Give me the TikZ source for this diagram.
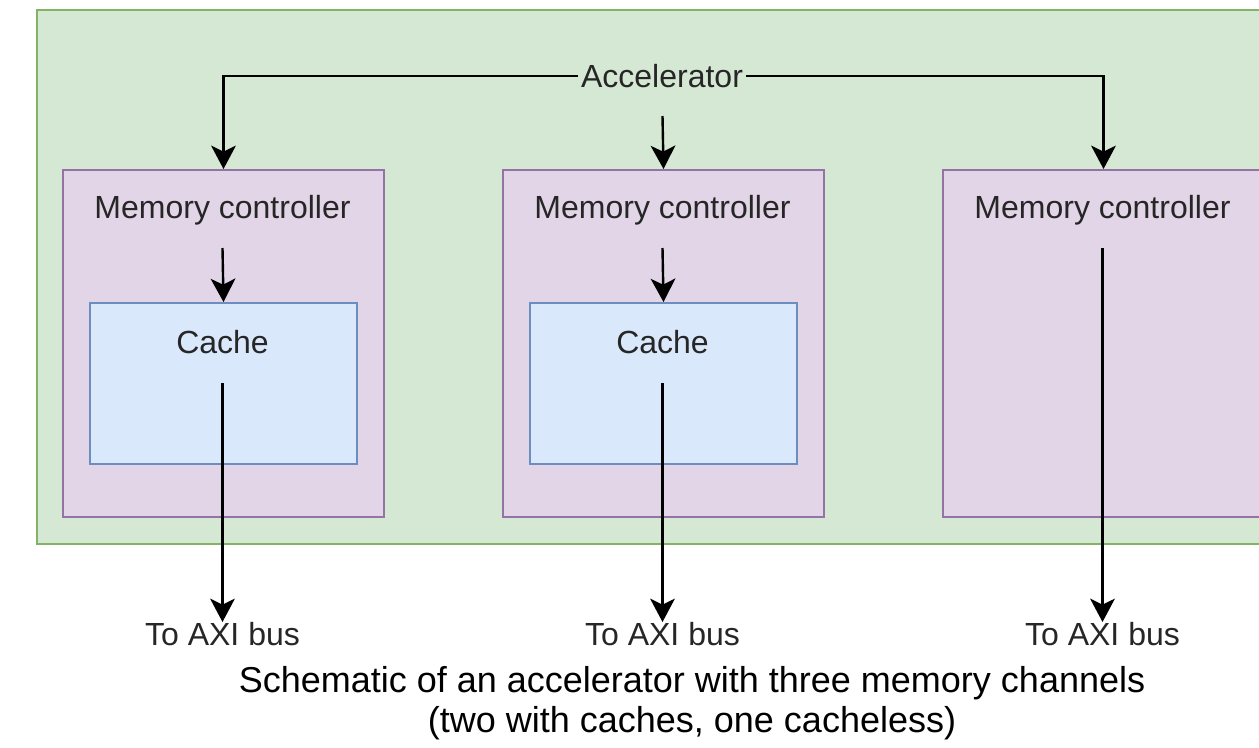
\documentclass[tikz,border=0pt]{standalone}
\usepackage{fontspec}
\setmainfont{Liberation Sans}
\usetikzlibrary{arrows.meta}
\definecolor{accfill}{HTML}{D5E8D4}
\definecolor{accline}{HTML}{82B366}
\definecolor{mcfill}{HTML}{E1D5E7}
\definecolor{mcline}{HTML}{9673A6}
\definecolor{cachefill}{HTML}{DAE8FC}
\definecolor{cacheline}{HTML}{6C8EBF}
\tikzset{
  accbox/.style={draw=accline, fill=accfill, line width=1.5pt, inner sep=0pt, anchor=north west,
    minimum width=929.25pt, minimum height=400.5pt},
  mcbox/.style={draw=mcline, fill=mcfill, line width=1.5pt, inner sep=0pt, anchor=north west,
    minimum width=240.75pt, minimum height=260.25pt},
  cachebox/.style={draw=cacheline, fill=cachefill, line width=1.5pt, inner sep=0pt, anchor=north west,
    minimum width=200.25pt, minimum height=120.75pt},
  lbl/.style={font=\fontsize{24}{28}\selectfont, text=black!85},
  conn/.style={line width=1.8pt, -{Stealth[length=17.5pt, width=18.5pt, inset=4.5pt]}},
}
\begin{document}
\begin{tikzpicture}[x=0.75pt, y=-0.75pt]
    \useasboundingbox (0,0) rectangle (1259,747);
    \clip (0,0) rectangle (1259,747);
    % boxes
    \node[accbox] (acc) at (36,9) {};
    \node[mcbox] (mc1) at (62,169) {};
    \node[mcbox] (mc2) at (502,169) {};
    \node[mcbox] (mc3) at (942,169) {};
    \node[cachebox] (cache1) at (89,302) {};
    \node[cachebox] (cache2) at (529,302) {};
    % labels
    \node[lbl, inner sep=2pt] (acclbl) at (662,76) {Accelerator};
    \node[lbl] (mclbl1) at (222.5,210) {Memory controller};
    \node[lbl] (mclbl2) at (662.5,210) {Memory controller};
    \node[lbl] (mclbl3) at (1102.5,210) {Memory controller};
    \node[lbl] (cachelbl1) at (222.5,342) {Cache};
    \node[lbl] (cachelbl2) at (662.5,342) {Cache};
    \node[lbl, anchor=north, inner sep=0pt] (axi1) at (222.5,622) {To AXI bus};
    \node[lbl, anchor=north, inner sep=0pt] (axi2) at (662.5,622) {To AXI bus};
    \node[lbl, anchor=north, inner sep=0pt] (axi3) at (1102.5,622) {To AXI bus};
    \node[font=\fontsize{27}{30}\selectfont, align=center] (caption) at (692,703)
        {Schematic of an accelerator with three memory channels\\(two with caches, one cacheless)};
    % connector start points
    \coordinate (accdown) at (662.5,116);
    \coordinate (mcout1) at (222.5,248);
    \coordinate (mcout2) at (662.5,248);
    \coordinate (mcout3) at (1102.5,248);
    \coordinate (cacheout1) at (222.5,383);
    \coordinate (cacheout2) at (662.5,383);
    % connectors
    \draw[conn] (acclbl.west) -| (mc1.north);
    \draw[conn] (acclbl.east) -| (mc3.north);
    \draw[conn] (accdown) -- (mc2.north);
    \draw[conn] (mcout1) -- (cache1.north);
    \draw[conn] (mcout2) -- (cache2.north);
    \draw[conn] (cacheout1) -- (axi1.north);
    \draw[conn] (cacheout2) -- (axi2.north);
    \draw[conn] (mcout3) -- (axi3.north);
\end{tikzpicture}
\end{document}
